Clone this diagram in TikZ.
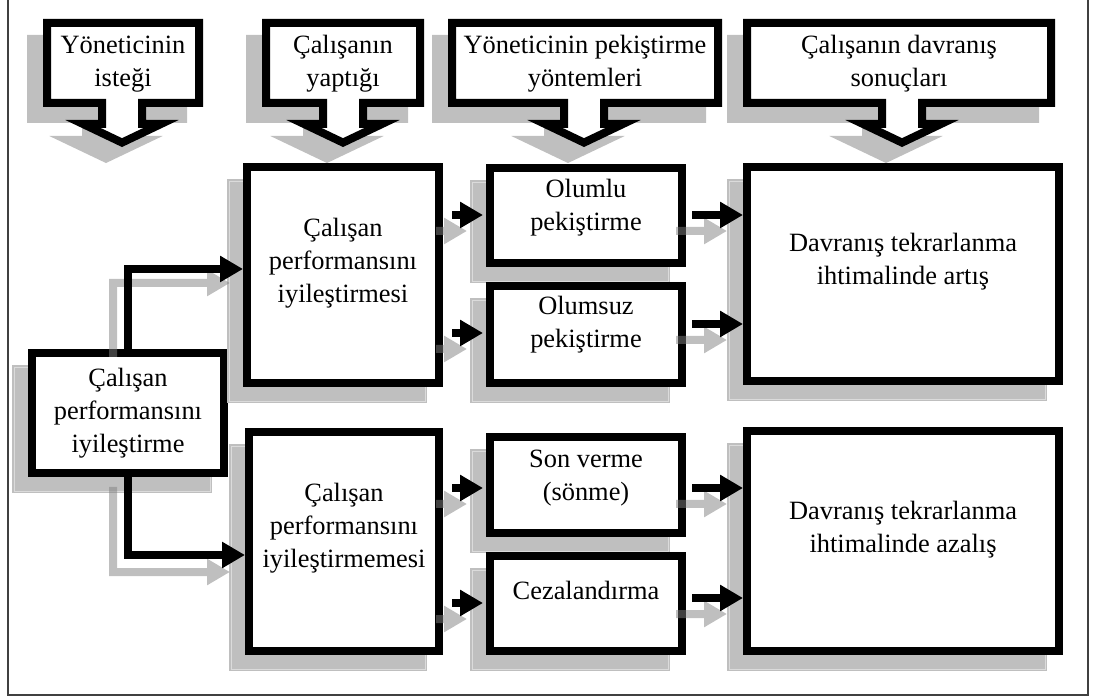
\documentclass[tikz,border=0pt]{standalone}
\usepackage{fontspec}
\setmainfont{Liberation Serif}
\usetikzlibrary{arrows.meta}

% drawing units: 1 unit = 1pt, y grows downwards
\tikzset{
  x=1pt, y=-1pt,
  panelbox/.style={draw=black, fill=white, line width=8pt, rectangle, inner sep=0pt},
  panelshade/.style={fill=gray!50},
  panelrim/.style={draw=gray!28, line width=0.8pt},
  calloutbox/.style={draw=black, fill=white, line width=8pt, line join=miter},
  calloutshade/.style={draw=gray!50, fill=gray!50, line width=8pt, line join=miter},
  labeltext/.style={font=\fontsize{26.4}{33}\selectfont, align=center, inner sep=0pt},
  blk/.style={draw=black, line width=8pt, -{Triangle[length=23pt, width=25pt]}},
  shd/.style={draw=gray, line width=8pt, -{Triangle[length=23pt, width=25pt]}},
  frameline/.style={draw=black!75, line width=1.2pt},
}

% boxed panel with its grey drop shadow; #2..#5 are the outer edges
\newcommand\panel[5]{%
  \fill[panelshade] ({#2-16},{#3+16}) rectangle ({#4-16},{#5+16});
  \draw[panelrim] ({#2-14},{#3+18}) rectangle ({#4-18},{#5+14});
  \node[panelbox, minimum width={#4-#2-8}, minimum height={#5-#3-8}]
       (#1) at ({(#2+#4)/2},{(#3+#5)/2}) {};
}

% heading callout with a downward arrow; #2,#3 outer left/right, #4 stem axis
\newcommand\callout[6]{%
  \path[calloutshade, shift={(-16,16)}]
    ({#2+4},23) -- ({#3-4},23) -- ({#3-4},103) -- ({#4+20},103) --
    ({#4+20},124) -- ({#4+39},124) -- (#4,142.6) -- ({#4-39},124) --
    ({#4-20},124) -- ({#4-20},103) -- ({#2+4},103) -- cycle;
  \path[calloutbox]
    ({#2+4},23) -- ({#3-4},23) -- ({#3-4},103) -- ({#4+20},103) --
    ({#4+20},124) -- ({#4+39},124) -- (#4,142.6) -- ({#4-39},124) --
    ({#4-20},124) -- ({#4-20},103) -- ({#2+4},103) -- cycle;
  \node[labeltext] (#1) at (#5,64) {#6};
}

% straight connector with its translucent shadow
\newcommand\twin[1]{%
  \begin{scope}[transparency group, opacity=0.5]
    \draw[shd, transform canvas={xshift=-16pt, yshift=-16pt}] #1;
  \end{scope}
  \draw[blk] #1;
}

\begin{document}
\begin{tikzpicture}
\useasboundingbox (0,0) rectangle (1093,700);

% outer frame
\draw[frameline] (8,-6) -- (8,695) -- (1088,695) -- (1088,-6);

% column headings
\callout{h1}{43}{203}{122}{123}{Yöneticinin\\isteği}
\callout{h2}{262}{424}{343}{343}{Çalışanın\\yaptığı}
\callout{h3}{448}{722}{584}{585}{Yöneticinin pekiştirme\\yöntemleri}
\callout{h4}{743}{1055}{902}{899}{Çalışanın davranış\\sonuçları}

% panels
\panel{A}{28}{349}{228}{477}
\panel{B}{243}{163}{443}{387}
\panel{C}{245}{428}{443}{655}
\panel{P1}{486}{164}{686}{267}
\panel{P2}{486}{282}{686}{387}
\panel{P3}{486}{433}{686}{537}
\panel{P4}{486}{552}{686}{655}
\panel{D}{743}{163}{1063}{385}
\panel{E}{743}{427}{1063}{655}

% panel texts
\node[labeltext] (tA) at (128,413) {Çalışan\\performansını\\iyileştirme};
\node[labeltext] (tB) at (343,263) {Çalışan\\performansını\\iyileştirmesi};
\node[labeltext] (tC) at (344,528) {Çalışan\\performansını\\iyileştirmemesi};
\node[labeltext] (tP1) at (586,208) {Olumlu\\pekiştirme};
\node[labeltext] (tP2) at (586,325) {Olumsuz\\pekiştirme};
\node[labeltext] (tP3) at (586,478) {Son verme\\(sönme)};
\node[labeltext] (tP4) at (586,590) {Cezalandırma};
\node[labeltext] (tD) at (903,262) {Davranış tekrarlanma\\ihtimalinde artış};
\node[labeltext] (tE) at (903,530) {Davranış tekrarlanma\\ihtimalinde azalış};

% levels of the connectors
\coordinate (ax) at (128,0);
\coordinate (upY) at (0,269);
\coordinate (dnY) at (0,555);
\coordinate (y1) at (0,215);
\coordinate (y2in) at (0,333);
\coordinate (y2out) at (0,324);
\coordinate (y3) at (0,488);
\coordinate (y4in) at (0,603);
\coordinate (y4out) at (0,598);
\coordinate (gUpS) at (113,357);
\coordinate (gUpT) at (230,283);
\coordinate (gDnS) at (113,487);
\coordinate (gDnT) at (230,572);

% elbow connectors from the left panel, shadows first
\begin{scope}[transparency group, opacity=0.5]
  \draw[shd] (gUpS) |- (gUpT);
  \draw[shd] (gDnS) |- (gDnT);
\end{scope}
\draw[blk] (A.north -| ax) |- (B.west |- upY);
\draw[blk] (A.south -| ax) |- (C.west |- dnY);

% connectors into the middle column
\twin{[shorten <=9pt, shorten >=3pt] (B.east |- y1) -- (P1.west |- y1)}
\twin{[shorten <=9pt, shorten >=3pt] (B.east |- y2in) -- (P2.west |- y2in)}
\twin{[shorten <=9pt, shorten >=3pt] (C.east |- y3) -- (P3.west |- y3)}
\twin{[shorten <=9pt, shorten >=3pt] (C.east |- y4in) -- (P4.west |- y4in)}

% connectors into the outcome panels
\twin{[shorten <=6pt] (P1.east |- y1) -- (D.west |- y1)}
\twin{[shorten <=6pt] (P2.east |- y2out) -- (D.west |- y2out)}
\twin{[shorten <=6pt] (P3.east |- y3) -- (E.west |- y3)}
\twin{[shorten <=6pt] (P4.east |- y4out) -- (E.west |- y4out)}
\end{tikzpicture}
\end{document}
